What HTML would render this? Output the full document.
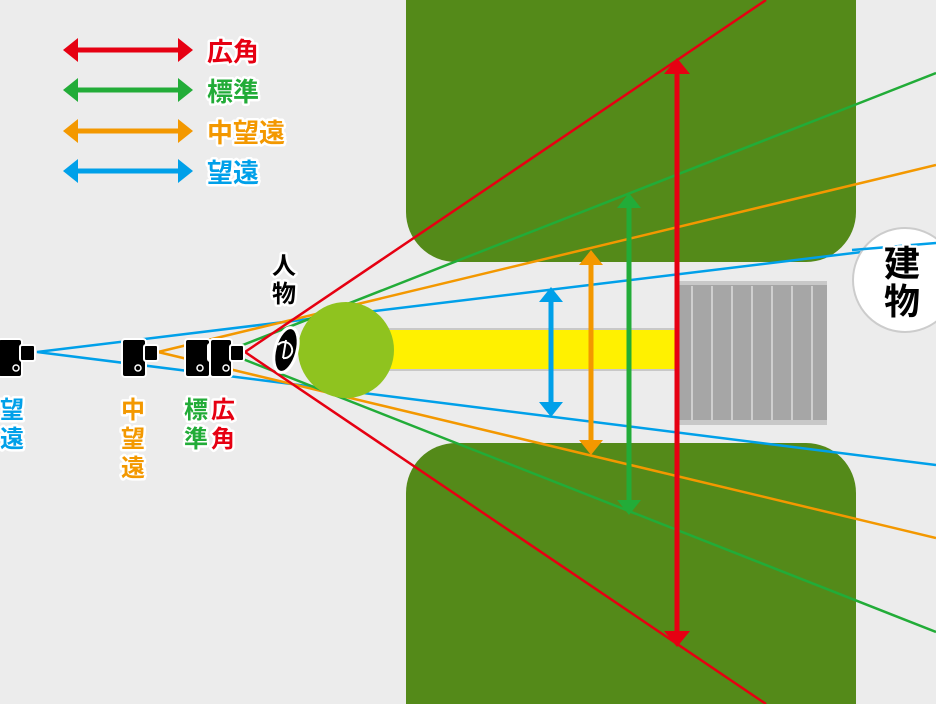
<!DOCTYPE html>
<html><head><meta charset="utf-8"><style>
html,body{margin:0;padding:0;background:#ececec;}
svg{display:block;}
text{font-family:"Liberation Sans","Noto Sans CJK JP",sans-serif;font-weight:bold;paint-order:stroke;stroke:#fff;stroke-width:5px;stroke-linejoin:round;}
</style></head><body>
<svg width="936" height="704" viewBox="0 0 936 704" xmlns="http://www.w3.org/2000/svg">
<rect width="936" height="704" fill="#ececec"/>
<!-- green blocks -->
<path d="M406 0 H856 V212 A50 50 0 0 1 806 262 H456 A50 50 0 0 1 406 212 Z" fill="#548a19"/>
<path d="M456 443 H806 A50 50 0 0 1 856 493 V704 H406 V493 A50 50 0 0 1 456 443 Z" fill="#548a19"/>
<!-- view lines -->
<g stroke-width="2.5" fill="none">
<polyline points="936,243 37,352 936,465" stroke="#00a0e9"/>
<polyline points="936,165 158,352 936,538" stroke="#f39800"/>
<polyline points="936,73 225,352 936,632" stroke="#22ac38"/>
<polyline points="766,0 245,352 766,704" stroke="#e60012"/>
</g>
<!-- yellow bar -->
<rect x="385" y="329" width="295" height="41" fill="#fff100" stroke="#c8c8c8" stroke-width="2"/>
<!-- green circle -->
<circle cx="346" cy="350" r="48" fill="#8fc31f"/>
<!-- building -->
<rect x="678" y="281" width="149" height="144" fill="#c8c8c8"/>
<rect x="678" y="285" width="149" height="135" fill="#a6a6a6"/>
<g stroke="#cfcfcf" stroke-width="2">
<line x1="692" y1="286" x2="692" y2="420"/><line x1="712" y1="286" x2="712" y2="420"/>
<line x1="732" y1="286" x2="732" y2="420"/><line x1="752" y1="286" x2="752" y2="420"/>
<line x1="772" y1="286" x2="772" y2="420"/><line x1="792" y1="286" x2="792" y2="420"/>
<line x1="812" y1="286" x2="812" y2="420"/>
</g>
<!-- building circle -->
<circle cx="905" cy="280" r="52" fill="#fff" stroke="#cccccc" stroke-width="2"/>
<line x1="852" y1="250" x2="936" y2="243" stroke="#00a0e9" stroke-width="2.5"/>
<text x="884" y="276" font-size="36" fill="#000" stroke="none">建</text>
<text x="884" y="314" font-size="36" fill="#000" stroke="none">物</text>
<!-- vertical arrows -->
<g>
<line x1="677" y1="70" x2="677" y2="636" stroke="#e60012" stroke-width="5"/>
<polygon points="664,74 677,58 690,74" fill="#e60012"/><polygon points="664,631 677,647 690,631" fill="#e60012"/>
<line x1="629" y1="203" x2="629" y2="505" stroke="#22ac38" stroke-width="5"/>
<polygon points="617,208 629,193 641,208" fill="#22ac38"/><polygon points="617,500 629,515 641,500" fill="#22ac38"/>
<line x1="591" y1="260" x2="591" y2="445" stroke="#f39800" stroke-width="5"/>
<polygon points="579,265 591,250 603,265" fill="#f39800"/><polygon points="579,440 591,455 603,440" fill="#f39800"/>
<line x1="551" y1="297" x2="551" y2="407" stroke="#00a0e9" stroke-width="5"/>
<polygon points="539,302 551,287 563,302" fill="#00a0e9"/><polygon points="539,402 551,417 563,402" fill="#00a0e9"/>
</g>
<!-- legend -->
<g>
<line x1="75" y1="50" x2="181" y2="50" stroke="#e60012" stroke-width="5"/>
<polygon points="63,50 78,38 78,62" fill="#e60012"/><polygon points="193,50 178,38 178,62" fill="#e60012"/>
<line x1="75" y1="90" x2="181" y2="90" stroke="#22ac38" stroke-width="5"/>
<polygon points="63,90 78,78 78,102" fill="#22ac38"/><polygon points="193,90 178,78 178,102" fill="#22ac38"/>
<line x1="75" y1="131" x2="181" y2="131" stroke="#f39800" stroke-width="5"/>
<polygon points="63,131 78,119 78,143" fill="#f39800"/><polygon points="193,131 178,119 178,143" fill="#f39800"/>
<line x1="75" y1="171" x2="181" y2="171" stroke="#00a0e9" stroke-width="5"/>
<polygon points="63,171 78,159 78,183" fill="#00a0e9"/><polygon points="193,171 178,159 178,183" fill="#00a0e9"/>
<text x="207" y="61" font-size="26" fill="#e60012">広角</text>
<text x="207" y="101" font-size="26" fill="#22ac38">標準</text>
<text x="207" y="142" font-size="26" fill="#f39800">中望遠</text>
<text x="207" y="182" font-size="26" fill="#00a0e9">望遠</text>
</g>
<!-- cameras -->
<g fill="#000" stroke="#fff" stroke-width="2">
<rect x="-2" y="339" width="24" height="38" rx="3"/><rect x="20" y="345" width="15" height="16" rx="2"/>
<rect x="122" y="339" width="24" height="38" rx="3"/><rect x="144" y="345" width="14" height="16" rx="2"/>
<rect x="185" y="339" width="25" height="38" rx="3"/><rect x="208" y="344" width="13" height="17" rx="2"/>
<rect x="210" y="339" width="22" height="38" rx="3"/><rect x="230" y="345" width="14" height="16" rx="2"/>
</g>
<g fill="none" stroke="#fff" stroke-width="1.5">
<circle cx="16" cy="368" r="3"/><circle cx="138" cy="368" r="3"/><circle cx="200" cy="368" r="3"/><circle cx="226" cy="368" r="3"/>
</g>
<!-- person -->
<ellipse cx="286" cy="350" rx="11" ry="23" transform="rotate(15 286 350)" fill="#000" stroke="#fff" stroke-width="3"/>
<path d="M278 345 A8 8 0 1 1 283 358" fill="none" stroke="#fff" stroke-width="2"/>
<line x1="286" y1="340" x2="283" y2="358" stroke="#fff" stroke-width="2"/>
<!-- labels -->
<g font-size="24">
<text x="272" y="274" fill="#000">人</text>
<text x="272" y="302" fill="#000">物</text>
<text x="0" y="418" fill="#00a0e9">望</text>
<text x="0" y="447" fill="#00a0e9">遠</text>
<text x="121" y="418" fill="#f39800">中</text>
<text x="121" y="447" fill="#f39800">望</text>
<text x="121" y="476" fill="#f39800">遠</text>
<text x="184" y="418" fill="#22ac38">標</text>
<text x="184" y="447" fill="#22ac38">準</text>
<text x="211" y="418" fill="#e60012">広</text>
<text x="211" y="447" fill="#e60012">角</text>
</g>
</svg>
</body></html>
